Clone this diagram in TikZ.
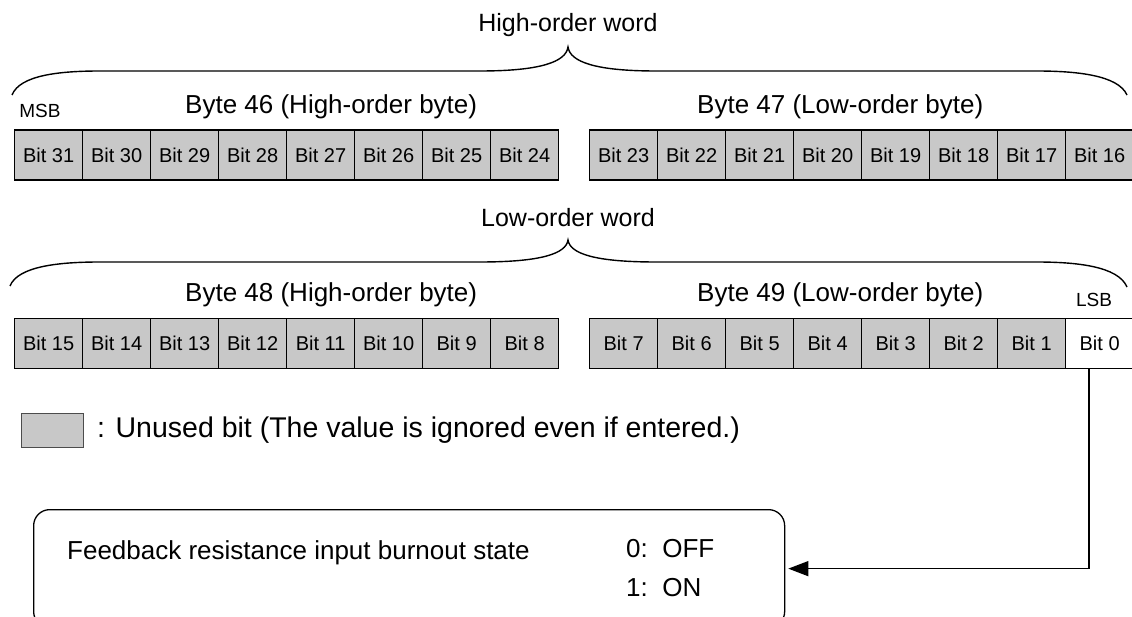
\documentclass[tikz,border=0pt]{standalone}
\usepackage{fontspec}
\setmainfont{Liberation Sans}
\usetikzlibrary{arrows.meta}
\definecolor{cellgray}{RGB}{200,200,200}
\begin{document}
\begin{tikzpicture}[x=1pt,y=-1pt,
  bitcell/.style={draw=black, line width=1.3pt, fill=cellgray, minimum width=68pt,
    minimum height=50pt, inner sep=0pt, anchor=west, font=\fontsize{20}{24}\selectfont},
  whitecell/.style={bitcell, fill=white},
  bracepath/.style={draw=black, line width=1.4pt},
  wordlabel/.style={font=\fontsize{25}{30}\selectfont, inner sep=0pt},
  bytelabel/.style={font=\fontsize{26}{31}\selectfont, inner sep=0pt, anchor=west},
  endlabel/.style={font=\fontsize{19}{23}\selectfont, inner sep=0pt},
  bodytext/.style={font=\fontsize{26}{31}\selectfont, inner sep=0pt, anchor=west},
  legendtext/.style={font=\fontsize{28.5}{33}\selectfont, inner sep=0pt, anchor=west},
  arrowline/.style={draw=black, line width=1.3pt, -{Triangle[length=20pt,width=15pt]}, shorten >=3pt}
]
\useasboundingbox (0,0) rectangle (1132,617);

% ---- upper word ----
\node[wordlabel] (hiword) at (568,25) {High-order word};
\draw[bracepath] (12,95) .. controls (20,75) and (60,71) .. (100,71) -- (480,71)
  .. controls (540,71) and (566,62) .. (568,47)
  .. controls (570,62) and (596,71) .. (656,71) -- (1036,71)
  .. controls (1076,71) and (1118,75) .. (1127,95);
\node[endlabel] (msb) at (40,111) {MSB};
\node[bytelabel] (b46) at (185,107) {Byte 46 (High-order byte)};
\node[bytelabel] (b47) at (697,107) {Byte 47 (Low-order byte)};
\foreach \i in {0,...,7} {
  \pgfmathtruncatemacro\ba{31-\i}
  \pgfmathtruncatemacro\bb{23-\i}
  \node[bitcell] (c\ba) at ({14+68*\i},155) {Bit \ba};
  \node[bitcell] (c\bb) at ({589+68*\i},155) {Bit \bb};
}

% ---- lower word ----
\node[wordlabel] (loword) at (568,218) {Low-order word};
\draw[bracepath] (10,286) .. controls (18,266) and (60,262) .. (100,262) -- (480,262)
  .. controls (540,262) and (566,254) .. (568,240)
  .. controls (570,254) and (596,262) .. (656,262) -- (1036,262)
  .. controls (1076,262) and (1118,266) .. (1127,287);
\node[bytelabel] (b48) at (185,295) {Byte 48 (High-order byte)};
\node[bytelabel] (b49) at (697,295) {Byte 49 (Low-order byte)};
\node[endlabel] (lsb) at (1094,300) {LSB};
\foreach \i in {0,...,7} {
  \pgfmathtruncatemacro\ba{15-\i}
  \node[bitcell] (c\ba) at ({14+68*\i},343.5) {Bit \ba};
}
\foreach \i in {0,...,6} {
  \pgfmathtruncatemacro\bb{7-\i}
  \node[bitcell] (c\bb) at ({589+68*\i},343.5) {Bit \bb};
}
\node[whitecell] (c0) at (1065,343.5) {Bit 0};

% ---- legend ----
\node[draw=black!70, line width=1pt, fill=cellgray, minimum width=62pt, minimum height=34pt,
  inner sep=0pt, anchor=north west] (leg) at (21,413) {};
\node[legendtext] (legtext) at (97,430) {: Unused bit (The value is ignored even if entered.)};

% ---- description box ----
\node[draw=black, line width=1.3pt, rounded corners=16pt, minimum width=751pt,
  minimum height=118pt, inner sep=0pt, anchor=north west] (fb) at (33,509) {};
\node[bodytext] (fbtext) at (67,553) {Feedback resistance input burnout state};
\node[bodytext] (off) at (626,549) {0:\ \ OFF};
\node[bodytext] (on) at (626,588) {1:\ \ ON};

\coordinate (tap) at (1089,369);
\draw[arrowline] (tap) |- (fb.east);
\end{tikzpicture}
\end{document}
